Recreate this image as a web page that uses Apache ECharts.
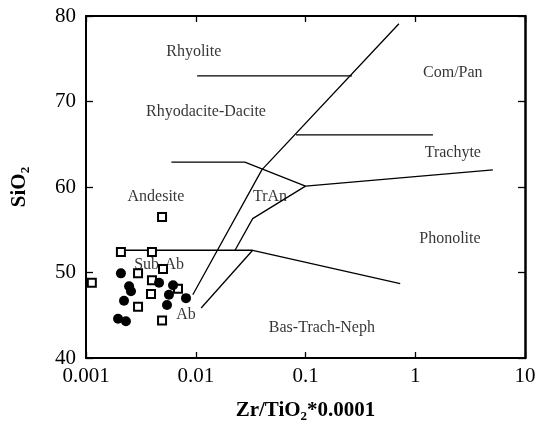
<!DOCTYPE html>
<html>
<head>
<meta charset="utf-8">
<script src="https://cdn.jsdelivr.net/npm/echarts@6/dist/echarts.min.js"></script>
<style>
  html, body { margin: 0; padding: 0; background: #fff; }
  #chart { width: 539px; height: 432px; }
</style>
</head>
<body>
<div id="chart"></div>
<script>
// tick labels
var xTickLabels = ["0.001", "0.01", "0.1", "1", "10"];
var yTickLabels = ["40", "50", "60", "70", "80"];

// sample points
var squareX = [0.00208, 0.00399, 0.00493, 0.00298, 0.00503, 0.00399, 0.00689, 0.00391, 0.00298, 0.00493, 0.00113];
var squareY = [52.4, 52.4, 56.5, 49.9, 50.4, 49.1, 48.1, 47.5, 46.0, 44.4, 48.8];
var circleX = [0.00208, 0.00247, 0.00257, 0.00222, 0.00196, 0.00231, 0.00463, 0.00621, 0.0057, 0.00547, 0.00815];
var circleY = [49.9, 48.4, 47.8, 46.7, 44.6, 44.3, 48.8, 48.5, 47.4, 46.2, 47.0];

// field boundaries
var rhyoliteLine = [[0.0103, 73.0], [0.265, 73.0]];
var mainDiagonal = [[0.71, 79.1], [0.040, 62.0], [0.0094, 47.4]];
var comPanLine = [[0.082, 66.1], [1.45, 66.1]];
var andesiteTop = [[0.0060, 62.9], [0.028, 62.9], [0.10, 60.1], [5.1, 62.0]];
var tranLower = [[0.10, 60.1], [0.033, 56.3], [0.0228, 52.6]];
var subAbLine = [[0.00209, 52.6], [0.033, 52.6]];
var abLower = [[0.033, 52.6], [0.0112, 45.85]];
var basTrachLine = [[0.033, 52.6], [0.73, 48.7]];

// field names
var fieldNames = ["Rhyolite", "Rhyodacite-Dacite", "Com/Pan", "Trachyte", "Andesite", "TrAn", "Phonolite", "Sub-Ab", "Ab", "Bas-Trach-Neph"];
var fieldX = [0.0096, 0.0124, 2.2, 2.2, 0.00434, 0.0475, 2.07, 0.00463, 0.00815, 0.141];
var fieldY = [75.8, 68.8, 73.4, 64.0, 58.9, 58.8, 54.0, 50.9, 45.0, 43.5];

var serif = "'Liberation Serif', 'DejaVu Serif', serif";

function zip(xs, ys) {
  var out = [];
  for (var i = 0; i < xs.length; i++) out.push([xs[i], ys[i]]);
  return out;
}

function boundary(data) {
  return {
    type: "line",
    data: data,
    symbol: "none",
    silent: true,
    lineStyle: { color: "#000", width: 1.3 },
    z: 2,
  };
}

var chartDom = document.getElementById("chart");
var myChart = echarts.init(chartDom);
var option;

var labelData = [];
for (var i = 0; i < fieldNames.length; i++) {
  labelData.push([fieldX[i], fieldY[i], fieldNames[i]]);
}

var xTickLine = { show: true, inside: true, length: 6, lineStyle: { color: "#000", width: 1.3 } };

option = {
  animation: false,
  backgroundColor: "#fff",
  grid: { left: 86, right: 14, top: 16, bottom: 74 },
  xAxis: [
    {
      type: "log",
      logBase: 10,
      min: 0.001,
      max: 10,
      name: "Zr/TiO{sub|2}*0.0001",
      nameLocation: "middle",
      nameGap: 40,
      nameTextStyle: {
        fontFamily: serif,
        fontWeight: "bold",
        fontSize: 21,
        color: "#000",
        rich: {
          sub: { fontFamily: serif, fontWeight: "bold", fontSize: 13, color: "#000", padding: [12, 0, 0, 0] },
        },
      },
      axisLine: { lineStyle: { color: "#000", width: 2 } },
      axisTick: xTickLine,
      minorTick: { show: false },
      splitLine: { show: false },
      axisLabel: {
        color: "#000",
        fontFamily: serif,
        fontSize: 21,
        margin: 8,
        formatter: function (v) {
          var k = Math.round(Math.log10(v)) + 3;
          return xTickLabels[k];
        },
      },
    },
    {
      type: "log",
      logBase: 10,
      min: 0.001,
      max: 10,
      position: "top",
      axisLine: { lineStyle: { color: "#000", width: 2 } },
      axisTick: xTickLine,
      axisLabel: { show: false },
      splitLine: { show: false },
    },
  ],
  yAxis: [
    {
      type: "value",
      min: 40,
      max: 80,
      interval: 10,
      name: "SiO{sub|2}",
      nameLocation: "middle",
      nameGap: 54,
      nameTextStyle: {
        fontFamily: serif,
        fontWeight: "bold",
        fontSize: 21,
        color: "#000",
        rich: {
          sub: { fontFamily: serif, fontWeight: "bold", fontSize: 13, color: "#000", padding: [12, 0, 0, 0] },
        },
      },
      axisLine: { show: true, lineStyle: { color: "#000", width: 2 } },
      axisTick: { show: true, inside: true, length: 7, lineStyle: { color: "#000", width: 1.3 } },
      splitLine: { show: false },
      axisLabel: {
        color: "#000",
        fontFamily: serif,
        fontSize: 21,
        margin: 10,
        formatter: function (v) {
          return yTickLabels[Math.round((v - 40) / 10)];
        },
      },
    },
    {
      type: "value",
      min: 40,
      max: 80,
      interval: 10,
      position: "right",
      axisLine: { show: true, lineStyle: { color: "#000", width: 2.5 } },
      axisTick: { show: true, inside: true, length: 7, lineStyle: { color: "#000", width: 1.3 } },
      axisLabel: { show: false },
      splitLine: { show: false },
    },
  ],
  series: [
    boundary(rhyoliteLine),
    boundary(mainDiagonal),
    boundary(comPanLine),
    boundary(andesiteTop),
    boundary(tranLower),
    boundary(subAbLine),
    boundary(abLower),
    boundary(basTrachLine),
    {
      type: "scatter",
      data: labelData,
      symbolSize: 0,
      silent: true,
      z: 3,
      label: {
        show: true,
        position: "inside",
        color: "#000",
        fontFamily: serif,
        fontSize: 16,
        formatter: function (p) {
          return p.data[2];
        },
      },
    },
    {
      type: "scatter",
      data: zip(squareX, squareY),
      symbol: "rect",
      symbolSize: 8,
      z: 4,
      itemStyle: { color: "#fff", borderColor: "#000", borderWidth: 2, opacity: 1 },
    },
    {
      type: "scatter",
      data: zip(circleX, circleY),
      symbol: "circle",
      symbolSize: 10,
      z: 4,
      itemStyle: { color: "#000", opacity: 1 },
    },
  ],
};

option && myChart.setOption(option);
</script>
</body>
</html>
